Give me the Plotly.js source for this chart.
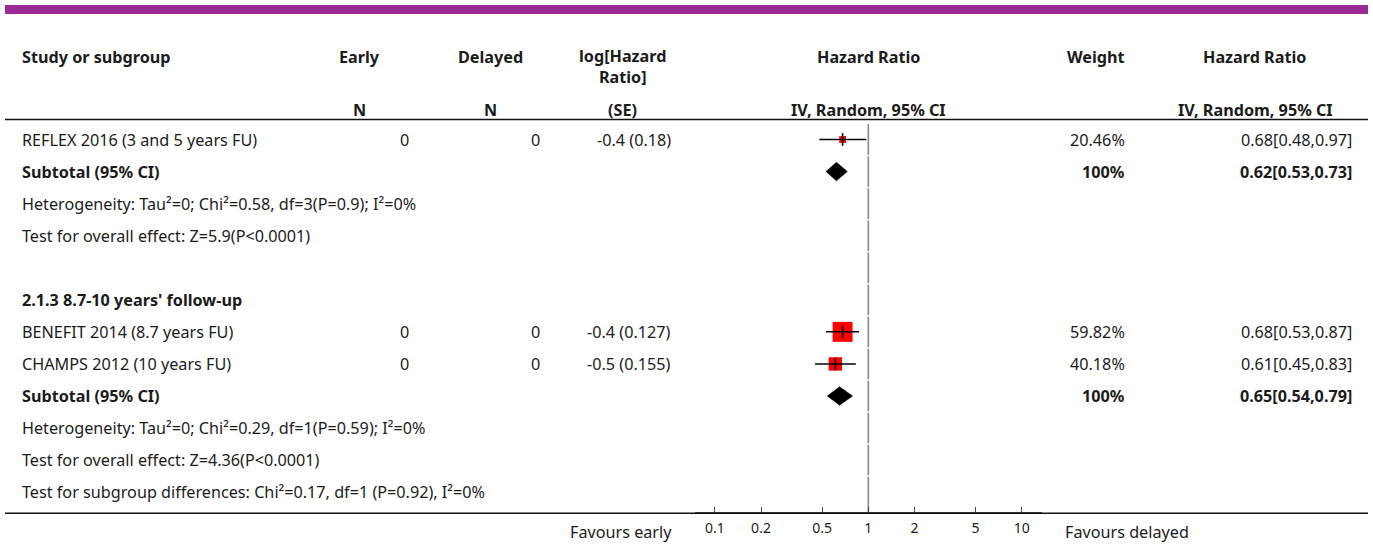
<!DOCTYPE html>
<html><head><meta charset="utf-8">
<script src="https://cdn.plot.ly/plotly-3.0.1.min.js"></script>
<style>html,body{margin:0;padding:0;background:#fff;}#chart{width:1373px;height:544px;}</style>
</head><body><div id="chart"></div>
<script>
// ---------------- data ----------------
const studyLabels = ['REFLEX 2016 (3 and 5 years FU)', 'BENEFIT 2014 (8.7 years FU)', 'CHAMPS 2012 (10 years FU)'];
const studyRows = [0, 6, 7];
const earlyN = [0, 0, 0];
const delayedN = [0, 0, 0];
const logHR = [-0.4, -0.4, -0.5];
const logSE = [0.18, 0.127, 0.155];
const studyHR = [0.68, 0.68, 0.61];
const studyLow = [0.48, 0.53, 0.45];
const studyHigh = [0.97, 0.87, 0.83];
const studyWeight = [20.46, 59.82, 40.18];

const subtotalRows = [1, 8];
const subtotalHR = [0.62, 0.65];
const subtotalLow = [0.53, 0.54];
const subtotalHigh = [0.73, 0.79];
const subtotalWeight = [100, 100];

const headingRows = [5];
const headingTexts = ["2.1.3 8.7-10 years' follow-up"];

const infoRows = [2, 3, 9, 10, 11];
const infoTexts = [
  'Heterogeneity: Tau\u00b2=0; Chi\u00b2=0.58, df=3(P=0.9); I\u00b2=0%',
  'Test for overall effect: Z=5.9(P<0.0001)',
  'Heterogeneity: Tau\u00b2=0; Chi\u00b2=0.29, df=1(P=0.59); I\u00b2=0%',
  'Test for overall effect: Z=4.36(P<0.0001)',
  'Test for subgroup differences: Chi\u00b2=0.17, df=1 (P=0.92), I\u00b2=0%'
];
const lastRow = 11;

const tickVals = [0.1, 0.2, 0.5, 1, 2, 5, 10];
const tickLabels = ['0.1', '0.2', '0.5', '1', '2', '5', '10'];
const leftLabel = 'Favours early';
const rightLabel = 'Favours delayed';

// ---------------- layout helpers ----------------
const W = 1373, H = 544;
const X = px => px / W;
const Y = py => 1 - py / H;
const row0 = 139.5, rowH = 32.06;
const rowOf = py => (py - row0) / rowH;
const FONT = '"Noto Sans", "Open Sans", sans-serif';
const FS = 16.2;
const TXT = '#1b1b1b';

const ann = [];
function addText(text, xpx, yval, align, opts = {}) {
  ann.push({
    text: text, x: X(xpx), xref: 'paper', y: yval, yref: opts.yref || 'y',
    xanchor: align, yanchor: 'middle', showarrow: false, align: 'center',
    xshift: align === 'left' ? -2 : (align === 'right' ? 2 : 0),
    font: {family: FONT, size: opts.size || FS, color: TXT, weight: opts.bold ? 700 : 400}
  });
}
// headers
const hY1 = Y(57), hY3 = Y(110);
addText('Study or subgroup', 22, hY1, 'left', {yref: 'paper', bold: true});
addText('Early', 359, hY1, 'center', {yref: 'paper', bold: true});
addText('N', 359, hY3, 'center', {yref: 'paper', bold: true});
addText('Delayed', 490, hY1, 'center', {yref: 'paper', bold: true});
addText('N', 490, hY3, 'center', {yref: 'paper', bold: true});
addText('log[Hazard<br>Ratio]', 622, Y(66.5), 'center', {yref: 'paper', bold: true});
addText('(SE)', 622, hY3, 'center', {yref: 'paper', bold: true});
addText('Hazard Ratio', 868, hY1, 'center', {yref: 'paper', bold: true});
addText('IV, Random, 95% CI', 868, hY3, 'center', {yref: 'paper', bold: true});
addText('Weight', 1096, hY1, 'center', {yref: 'paper', bold: true});
addText('Hazard Ratio', 1254, hY1, 'center', {yref: 'paper', bold: true});
addText('IV, Random, 95% CI', 1333, hY3, 'right', {yref: 'paper', bold: true});

const fmtCI = (e, l, h) => e.toFixed(2) + '[' + l.toFixed(2) + ',' + h.toFixed(2) + ']';
studyRows.forEach((r, i) => {
  addText(studyLabels[i], 22, r, 'left');
  addText(String(earlyN[i]), 409, r, 'right');
  addText(String(delayedN[i]), 540, r, 'right');
  addText(logHR[i] + ' (' + logSE[i] + ')', 671, r, 'right');
  addText(studyWeight[i].toFixed(2) + '%', 1125, r, 'right');
  addText(fmtCI(studyHR[i], studyLow[i], studyHigh[i]), 1352, r, 'right');
});
subtotalRows.forEach((r, i) => {
  addText('Subtotal (95% CI)', 22, r, 'left', {bold: true});
  addText(subtotalWeight[i] + '%', 1125, r, 'right', {bold: true});
  addText(fmtCI(subtotalHR[i], subtotalLow[i], subtotalHigh[i]), 1352, r, 'right', {bold: true});
});
headingRows.forEach((r, i) => addText(headingTexts[i], 22, r, 'left', {bold: true}));
infoRows.forEach((r, i) => addText(infoTexts[i], 22, r, 'left'));
addText(leftLabel, 672, Y(532), 'right', {yref: 'paper'});
addText(rightLabel, 1065, Y(532), 'left', {yref: 'paper'});

// ---------------- traces ----------------
const traces = [];
// null line segments (with small gaps between rows)
const vx = [], vy = [];
const axisRow = rowOf(513);
for (let r = 0; r <= lastRow; r++) {
  vx.push(1, 1, null);
  vy.push(r - 0.5 + 0.02, r === lastRow ? axisRow : r + 0.5 - 0.02, null);
}
traces.push({x: vx, y: vy, mode: 'lines', line: {color: '#8a8a8a', width: 1.6}, hoverinfo: 'skip', showlegend: false, cliponaxis: false});

// squares (size follows study weight)
traces.push({
  x: studyHR, y: studyRows, mode: 'markers', hoverinfo: 'skip', showlegend: false,
  marker: {symbol: 'square', color: '#ff0000', opacity: 1, size: studyWeight.map(w => w / 3), line: {width: 0}}
});
// CI lines
const cx = [], cy = [];
studyRows.forEach((r, i) => { cx.push(studyLow[i], studyHigh[i], null); cy.push(r, r, null); });
traces.push({x: cx, y: cy, mode: 'lines', line: {color: '#000', width: 1.5}, hoverinfo: 'skip', showlegend: false});
// point ticks
traces.push({
  x: studyHR, y: studyRows, mode: 'markers', hoverinfo: 'skip', showlegend: false,
  marker: {symbol: 'line-ns', size: 9, color: '#000', opacity: 1, line: {color: '#000', width: 1.6}}
});
// diamonds
subtotalRows.forEach((r, i) => {
  const hh = 0.29;
  traces.push({
    x: [subtotalLow[i], subtotalHR[i], subtotalHigh[i], subtotalHR[i], subtotalLow[i]],
    y: [r, r - hh, r, r + hh, r], mode: 'lines', fill: 'toself', fillcolor: '#000',
    line: {color: '#000', width: 0.5}, hoverinfo: 'skip', showlegend: false
  });
});

// ---------------- shapes ----------------
const shapes = [
  {type: 'rect', xref: 'paper', yref: 'paper', x0: X(5), x1: X(1368), y0: Y(5), y1: Y(14), fillcolor: '#9b2a96', line: {width: 0}},
  {type: 'line', xref: 'paper', yref: 'paper', x0: X(5), x1: X(1368), y0: Y(119.5), y1: Y(119.5), line: {color: '#111', width: 1.5}},
  {type: 'line', xref: 'paper', yref: 'paper', x0: X(5), x1: X(1368), y0: Y(513.3), y1: Y(513.3), line: {color: '#111', width: 1.5}}
];

const PXD = 153.5, C1 = 868.3;
const layout = {
  width: W, height: H, margin: {l: 0, r: 0, t: 0, b: 0}, paper_bgcolor: '#fff', plot_bgcolor: 'rgba(0,0,0,0)',
  showlegend: false,
  xaxis: {
    type: 'log', domain: [X(695), X(1042)], range: [(695 - C1) / PXD, (1042 - C1) / PXD],
    anchor: 'free', position: Y(513.3), showgrid: false, zeroline: false,
    showline: true, linecolor: '#555', linewidth: 2,
    ticks: 'inside', ticklen: 5, tickwidth: 1, tickcolor: '#444',
    tickvals: tickVals, ticktext: tickLabels, tickfont: {family: FONT, size: 14, color: TXT},
    ticklabelstandoff: 2, fixedrange: true
  },
  yaxis: {
    range: [rowOf(H), rowOf(0)], domain: [0, 1], visible: false, showgrid: false, zeroline: false, fixedrange: true
  },
  annotations: ann, shapes: shapes
};
Plotly.newPlot('chart', traces, layout, {staticPlot: true, displayModeBar: false});
</script></body></html>
